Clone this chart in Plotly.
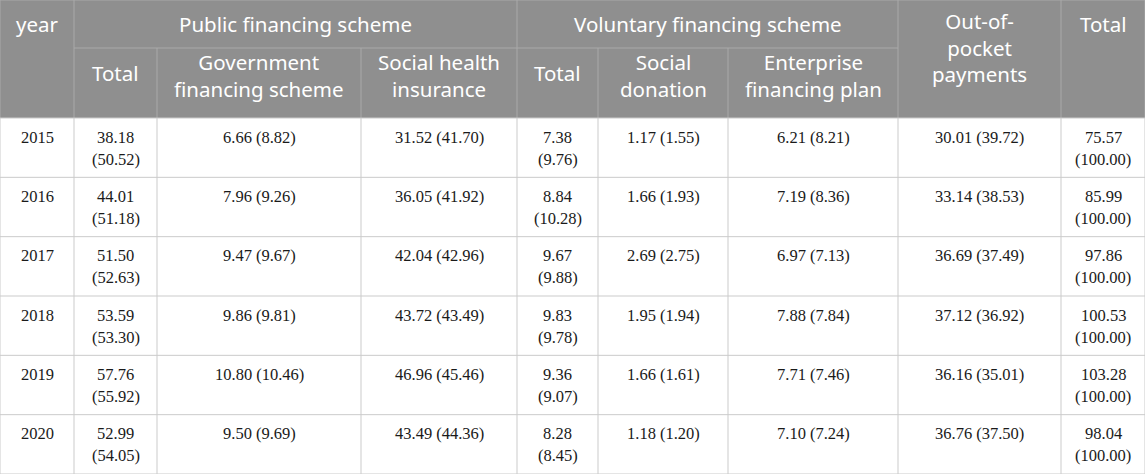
import plotly.graph_objects as go

# health expenditure by financing scheme, billion yuan (share of total, %)
years = [2015, 2016, 2017, 2018, 2019, 2020]

public_total = [38.18, 44.01, 51.50, 53.59, 57.76, 52.99]
public_total_pct = [50.52, 51.18, 52.63, 53.30, 55.92, 54.05]
government = [6.66, 7.96, 9.47, 9.86, 10.80, 9.50]
government_pct = [8.82, 9.26, 9.67, 9.81, 10.46, 9.69]
social_insurance = [31.52, 36.05, 42.04, 43.72, 46.96, 43.49]
social_insurance_pct = [41.70, 41.92, 42.96, 43.49, 45.46, 44.36]
voluntary_total = [7.38, 8.84, 9.67, 9.83, 9.36, 8.28]
voluntary_total_pct = [9.76, 10.28, 9.88, 9.78, 9.07, 8.45]
donation = [1.17, 1.66, 2.69, 1.95, 1.66, 1.18]
donation_pct = [1.55, 1.93, 2.75, 1.94, 1.61, 1.20]
enterprise = [6.21, 7.19, 6.97, 7.88, 7.71, 7.10]
enterprise_pct = [8.21, 8.36, 7.13, 7.84, 7.46, 7.24]
out_of_pocket = [30.01, 33.14, 36.69, 37.12, 36.16, 36.76]
out_of_pocket_pct = [39.72, 38.53, 37.49, 36.92, 35.01, 37.50]
grand_total = [75.57, 85.99, 97.86, 100.53, 103.28, 98.04]
grand_total_pct = [100.00, 100.00, 100.00, 100.00, 100.00, 100.00]

group_labels = ["Public financing scheme", "Voluntary financing scheme"]
sub_labels = ["Total", "Government<br>financing scheme", "Social health<br>insurance",
              "Total", "Social<br>donation", "Enterprise<br>financing plan"]

# layout of the grid (pixels)
W, H = 1145, 474
edges = [0, 74, 157, 361, 517, 598, 728, 898, 1061, 1145]
head1, head2 = 48, 118
row_h = (H - head2) / len(years)

HEAD_FILL = "#8f8f8f"
HEAD_LINE = "#a9a9a9"
BODY_LINE = "#cbcbcb"
HEAD_FONT = dict(family="Noto Sans", size=20.5, color="white")
BODY_FONT = dict(family="Liberation Serif", size=16.5, color="#1a1a1a")

body_cols = [
    (public_total, public_total_pct, True),
    (government, government_pct, False),
    (social_insurance, social_insurance_pct, False),
    (voluntary_total, voluntary_total_pct, True),
    (donation, donation_pct, False),
    (enterprise, enterprise_pct, False),
    (out_of_pocket, out_of_pocket_pct, False),
    (grand_total, grand_total_pct, True),
]

fig = go.Figure()
shapes = []
annotations = []


def line(x0, y0, x1, y1, color):
    shapes.append(dict(type="line", xref="x", yref="y", x0=x0, y0=y0, x1=x1, y1=y1,
                       line=dict(color=color, width=1)))


def label(x, y, text, font):
    annotations.append(dict(x=x, y=y, xref="x", yref="y", text=text, showarrow=False,
                            xanchor="center", yanchor="middle", font=font))


def mid(i, j):
    return (edges[i] + edges[j]) / 2


# header background
shapes.append(dict(type="rect", xref="x", yref="y", x0=0, y0=0, x1=W, y1=head2,
                   fillcolor=HEAD_FILL, line=dict(width=0), layer="below"))

# header lines
for k in [0, 1, 4, 7, 8, 9]:
    line(edges[k], 0, edges[k], head2, HEAD_LINE)
for k in [2, 3, 5, 6]:
    line(edges[k], head1, edges[k], head2, HEAD_LINE)
line(0, 0, W, 0, HEAD_LINE)
line(edges[1], head1, edges[7], head1, HEAD_LINE)

# header text
label(mid(0, 1), 24, "year", HEAD_FONT)
label(mid(1, 4), 24, group_labels[0], HEAD_FONT)
label(mid(4, 7), 24, group_labels[1], HEAD_FONT)
label(mid(7, 8), 47, "Out-of-<br>pocket<br>payments", HEAD_FONT)
label(mid(8, 9), 24, "Total", HEAD_FONT)
for k, text in enumerate(sub_labels):
    label(mid(k + 1, k + 2), 73 if "<br>" not in text else 75, text, HEAD_FONT)

# body grid
for r in range(len(years) + 1):
    y = head2 + r * row_h
    line(0, y, W, y, BODY_LINE)
for k in edges:
    line(k, head2, k, H, BODY_LINE)

# body text
for r, yr in enumerate(years):
    top = head2 + r * row_h
    label(mid(0, 1), top + 19, str(yr), BODY_FONT)
    for c, (vals, pcts, stacked) in enumerate(body_cols):
        x = mid(c + 1, c + 2)
        if stacked:
            label(x, top + 19, f"{vals[r]:.2f}", BODY_FONT)
            label(x, top + 41, f"({pcts[r]:.2f})", BODY_FONT)
        else:
            label(x, top + 19, f"{vals[r]:.2f} ({pcts[r]:.2f})", BODY_FONT)

fig.update_layout(
    width=W, height=H,
    margin=dict(l=0, r=0, t=0, b=0),
    paper_bgcolor="white", plot_bgcolor="white",
    shapes=shapes, annotations=annotations,
    showlegend=False,
)
fig.update_xaxes(range=[0, W], visible=False, fixedrange=True)
fig.update_yaxes(range=[H, 0], visible=False, fixedrange=True)

# drop the page's default body margin so the table fills the window
fig.write_html("out.html", config={"displayModeBar": False},
               post_script="document.body.style.margin='0';")
